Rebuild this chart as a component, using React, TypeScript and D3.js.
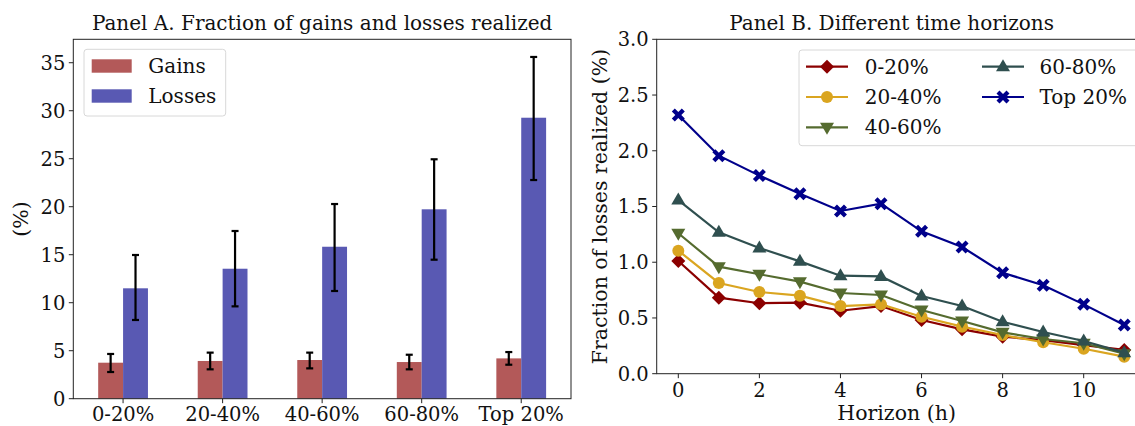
import React from "react";
import * as d3 from "d3";

const categories = ["0-20%", "20-40%", "40-60%", "60-80%", "Top 20%"];
const gains = [3.75, 3.93, 4.03, 3.82, 4.2];
const gainsLow = [2.78, 3.06, 3.16, 3.06, 3.54];
const gainsHigh = [4.66, 4.8, 4.8, 4.58, 4.86];
const losses = [11.5, 13.54, 15.83, 19.73, 29.27];
const lossesLow = [8.2, 9.62, 11.22, 14.48, 22.78];
const lossesHigh = [14.97, 17.47, 20.28, 24.94, 35.6];
const yTicksA = [0, 5, 10, 15, 20, 25, 30, 35];

const horizons = [0, 1, 2, 3, 4, 5, 6, 7, 8, 9, 10, 11];
const seriesNames = ["0-20%", "20-40%", "40-60%", "60-80%", "Top 20%"];
const s0to20 = [1.011, 0.682, 0.632, 0.637, 0.565, 0.607, 0.482, 0.398, 0.332, 0.302, 0.257, 0.213];
const s20to40 = [1.104, 0.814, 0.733, 0.7, 0.607, 0.622, 0.511, 0.422, 0.347, 0.282, 0.224, 0.153];
const s40to60 = [1.26, 0.96, 0.892, 0.826, 0.724, 0.706, 0.571, 0.473, 0.371, 0.311, 0.273, 0.18];
const s60to80 = [1.558, 1.268, 1.128, 1.008, 0.879, 0.873, 0.697, 0.607, 0.466, 0.374, 0.293, 0.189];
const sTop20 = [2.32, 1.956, 1.777, 1.615, 1.46, 1.525, 1.277, 1.137, 0.906, 0.793, 0.622, 0.437];
const yTicksB = [0, 0.5, 1.0, 1.5, 2.0, 2.5, 3.0];
const xTicksB = [0, 2, 4, 6, 8, 10];

const FONT = "DejaVu Serif";
const GAIN_COLOR = "rgb(179,89,89)";
const LOSS_COLOR = "rgb(89,89,179)";
const seriesColors = ["#8b0000", "#daa520", "#556b2f", "#2f4f4f", "#00008b"];
const seriesMarkers = ["diamond", "circle", "tridown", "triup", "x"];

function Marker({ type, x, y, color }: { type: string; x: number; y: number; color: string }) {
  if (type === "circle") return <circle cx={x} cy={y} r={6} fill={color} />;
  if (type === "diamond")
    return <path d={`M${x},${y - 7}L${x + 7},${y}L${x},${y + 7}L${x - 7},${y}Z`} fill={color} />;
  if (type === "triup")
    return <path d={`M${x},${y - 7.5}L${x + 7},${y + 4.5}L${x - 7},${y + 4.5}Z`} fill={color} />;
  if (type === "tridown")
    return <path d={`M${x},${y + 7.5}L${x + 7},${y - 4.5}L${x - 7},${y - 4.5}Z`} fill={color} />;
  const a = 6.5, w = 3;
  const p = `M${x - a},${y - a + w}L${x - a + w},${y - a}L${x},${y - w}L${x + a - w},${y - a}L${x + a},${y - a + w}L${x + w},${y}L${x + a},${y + a - w}L${x + a - w},${y + a}L${x},${y + w}L${x - a + w},${y + a}L${x - a},${y + a - w}L${x - w},${y}Z`;
  return <path d={p} fill={color} />;
}

export default function App() {
  const aL = 73.3, aR = 571, aT = 39.3, aB = 398.7;
  const xA = d3.scaleLinear().domain([-0.5, 4.5]).range([aL, aR]);
  const yA = d3.scaleLinear().domain([0, 37.44]).range([aB, aT]);
  const bw = 0.25;

  const bL = 656.7, bT = 39.3, bB = 373.7;
  const xB = d3.scaleLinear().domain([0, 10]).range([678.3, 1083.7]);
  const bR = xB(11.55);
  const yB = d3.scaleLinear().domain([0, 3]).range([bB, bT]);
  const allSeries = [s0to20, s20to40, s40to60, s60to80, sTop20];
  const line = d3.line<number>().x((_, i) => xB(horizons[i])).y((d) => yB(d));

  const tickFont = 19.5;
  const labelFont = 20.5;
  const titleFont = 20;
  return (
    <svg width={1135} height={426} style={{ position: "absolute", left: 0, top: 0, background: "white" }} fontFamily={FONT}>
      <rect width={1135} height={426} fill="white" />
      <text x={(aL + aR) / 2} y={30} textAnchor="middle" fontSize={titleFont} fill="#111">
        Panel A. Fraction of gains and losses realized
      </text>
      {categories.map((c, i) => (
        <g key={c}>
          <rect x={xA(i - bw)} y={yA(gains[i])} width={xA(i) - xA(i - bw)} height={yA(0) - yA(gains[i])} fill={GAIN_COLOR} />
          <rect x={xA(i)} y={yA(losses[i])} width={xA(i + bw) - xA(i)} height={yA(0) - yA(losses[i])} fill={LOSS_COLOR} />
        </g>
      ))}
      {categories.map((c, i) => {
        const gx = xA(i - bw / 2), lx = xA(i + bw / 2);
        return (
          <g key={"e" + c} stroke="black" strokeWidth={2.2}>
            <line x1={gx} x2={gx} y1={yA(gainsLow[i])} y2={yA(gainsHigh[i])} />
            <line x1={gx - 3.5} x2={gx + 3.5} y1={yA(gainsLow[i])} y2={yA(gainsLow[i])} />
            <line x1={gx - 3.5} x2={gx + 3.5} y1={yA(gainsHigh[i])} y2={yA(gainsHigh[i])} />
            <line x1={lx} x2={lx} y1={yA(lossesLow[i])} y2={yA(lossesHigh[i])} />
            <line x1={lx - 3.5} x2={lx + 3.5} y1={yA(lossesLow[i])} y2={yA(lossesLow[i])} />
            <line x1={lx - 3.5} x2={lx + 3.5} y1={yA(lossesHigh[i])} y2={yA(lossesHigh[i])} />
          </g>
        );
      })}
      <rect x={aL} y={aT} width={aR - aL} height={aB - aT} fill="none" stroke="#222" strokeWidth={1} />
      {yTicksA.map((t) => (
        <g key={t}>
          <line x1={aL - 4.5} x2={aL} y1={yA(t)} y2={yA(t)} stroke="#222" />
          <text x={aL - 8} y={yA(t)} dy="0.35em" textAnchor="end" fontSize={tickFont} fill="#111">{t}</text>
        </g>
      ))}
      {categories.map((c, i) => (
        <g key={"t" + c}>
          <line x1={xA(i)} x2={xA(i)} y1={aB} y2={aB + 4.5} stroke="#222" />
          <text x={xA(i)} y={aB + 22} textAnchor="middle" fontSize={tickFont} fill="#111">{c}</text>
        </g>
      ))}
      <text transform={`translate(28,${(aT + aB) / 2}) rotate(-90)`} textAnchor="middle" fontSize={labelFont} fill="#111">(%)</text>
      <rect x={84} y={49.3} width={141.7} height={66.7} rx={3} fill="white" fillOpacity={0.8} stroke="#d8d8d8" />
      <rect x={91.7} y={59.3} width={40} height={13.4} fill={GAIN_COLOR} />
      <rect x={91.7} y={89.3} width={40} height={13.4} fill={LOSS_COLOR} />
      <text x={148.3} y={73} fontSize={20} fill="#111">Gains</text>
      <text x={148.3} y={103} fontSize={20} fill="#111">Losses</text>

      <text x={(bL + bR) / 2 - 10} y={30} textAnchor="middle" fontSize={titleFont} fill="#111">
        Panel B. Different time horizons
      </text>
      {allSeries.map((s, k) => (
        <g key={"s" + k}>
          <path d={line(s) || ""} fill="none" stroke={seriesColors[k]} strokeWidth={2.2} />
          {s.map((v, i) => (
            <Marker key={i} type={seriesMarkers[k]} x={xB(horizons[i])} y={yB(v)} color={seriesColors[k]} />
          ))}
        </g>
      ))}
      <rect x={bL} y={bT} width={bR - bL} height={bB - bT} fill="none" stroke="#222" strokeWidth={1} />
      {yTicksB.map((t) => (
        <g key={"yb" + t}>
          <line x1={bL - 4.5} x2={bL} y1={yB(t)} y2={yB(t)} stroke="#222" />
          <text x={bL - 8} y={yB(t)} dy="0.35em" textAnchor="end" fontSize={tickFont} fill="#111">{t.toFixed(1)}</text>
        </g>
      ))}
      {xTicksB.map((t) => (
        <g key={"xb" + t}>
          <line x1={xB(t)} x2={xB(t)} y1={bB} y2={bB + 4.5} stroke="#222" />
          <text x={xB(t)} y={bB + 23} textAnchor="middle" fontSize={tickFont} fill="#111">{t}</text>
        </g>
      ))}
      <text x={(bL + bR) / 2 - 5} y={420} textAnchor="middle" fontSize={labelFont} fill="#111">Horizon (h)</text>
      <text transform={`translate(607,${(bT + bB) / 2}) rotate(-90)`} textAnchor="middle" fontSize={labelFont} fill="#111">
        Fraction of losses realized (%)
      </text>
      <rect x={799} y={50} width={380} height={95.7} rx={3} fill="white" fillOpacity={0.8} stroke="#d8d8d8" />
      {seriesNames.map((n, k) => {
        const col = k < 3 ? 0 : 1;
        const row = k < 3 ? k : k - 3;
        const lx = col === 0 ? 806 : 982;
        const tx = col === 0 ? 864.8 : 1039.5;
        const ly = 66.7 + row * 30.3;
        return (
          <g key={"lg" + n}>
            <line x1={lx} x2={lx + 42} y1={ly} y2={ly} stroke={seriesColors[k]} strokeWidth={2.2} />
            <Marker type={seriesMarkers[k]} x={lx + 21} y={ly} color={seriesColors[k]} />
            <text x={tx} y={ly} dy="0.35em" fontSize={20} fill="#111">{n}</text>
          </g>
        );
      })}
    </svg>
  );
}
